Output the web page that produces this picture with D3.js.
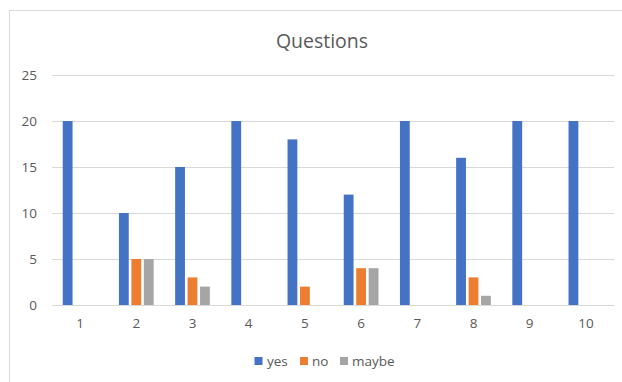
<!DOCTYPE html>
<html>
<head>
<meta charset="utf-8">
<script src="https://cdn.jsdelivr.net/npm/d3@7"></script>
<style>
  html, body { margin: 0; padding: 0; background: #fff; }
  svg { display: block; font-family: "Open Sans", "Noto Sans", sans-serif; }
</style>
</head>
<body>
<svg id="chart" width="622" height="382"></svg>
<script>
// Survey answers per question
const categories = ["1", "2", "3", "4", "5", "6", "7", "8", "9", "10"];
const seriesNames = ["yes", "no", "maybe"];
const yesValues = [20, 10, 15, 20, 18, 12, 20, 16, 20, 20];
const noValues = [0, 5, 3, 0, 2, 4, 0, 3, 0, 0];
const maybeValues = [0, 5, 2, 0, 0, 4, 0, 1, 0, 0];
const yTicks = [0, 5, 10, 15, 20, 25];
const colors = ["#4472C4", "#ED7D31", "#A5A5A5"];
const titleText = "Questions";

const seriesValues = [yesValues, noValues, maybeValues];

const svg = d3.select("#chart");
const W = 622, H = 382;
const plot = { left: 52, right: 614, top: 75, bottom: 305 };

// Chart frame
svg.append("rect")
  .attr("x", 9.5).attr("y", 10.5)
  .attr("width", W + 20).attr("height", H + 20)
  .attr("fill", "#fff").attr("stroke", "#d9d9d9").attr("stroke-width", 1);

// Title
svg.append("text")
  .attr("x", 322).attr("y", 47.5)
  .attr("text-anchor", "middle")
  .attr("font-size", 19.5)
  .attr("fill", "#595959")
  .text(titleText);

const x = d3.scaleBand()
  .domain(categories)
  .range([plot.left, plot.right])
  .paddingInner(0).paddingOuter(0);

const y = d3.scaleLinear()
  .domain([0, 25])
  .range([plot.bottom, plot.top]);

// Bars: gap width 219%, overlap -27%
const catW = x.bandwidth();
const barW = catW / (3 + 2 * 0.27 + 2.19);
const barStep = barW * 1.27;
const groupW = barW * 3 + barW * 0.27 * 2;

// Gridlines
const grid = svg.append("g");
grid.selectAll("line")
  .data(yTicks)
  .join("line")
  .attr("x1", plot.left).attr("x2", plot.right)
  .attr("y1", d => Math.round(y(d)) + 0.5)
  .attr("y2", d => Math.round(y(d)) + 0.5)
  .attr("stroke", "#d9d9d9").attr("stroke-width", 1);

// Y axis labels
const yAxis = d3.axisLeft(y).tickValues(yTicks).tickSize(0).tickPadding(0);
const yg = svg.append("g")
  .attr("transform", `translate(${plot.left - 15},0)`)
  .call(yAxis);
yg.select(".domain").remove();
yg.selectAll("text")
  .attr("font-size", 13.5)
  .attr("font-family", "'Open Sans', sans-serif")
  .attr("fill", "#595959");

// Bars
const groups = svg.append("g").selectAll("g")
  .data(seriesNames)
  .join("g")
  .attr("fill", (d, i) => colors[i]);

groups.each(function (name, si) {
  d3.select(this).selectAll("rect")
    .data(seriesValues[si].map((v, ci) => ({ v, c: categories[ci] })))
    .join("rect")
    .filter(d => d.v > 0)
    .attr("x", d => x(d.c) + (catW - groupW) / 2 + si * barStep)
    .attr("width", barW)
    .attr("y", d => y(d.v))
    .attr("height", d => y(0) - y(d.v));
});

// X axis labels
const xAxis = d3.axisBottom(x).tickSize(0).tickPadding(0);
const xg = svg.append("g")
  .attr("transform", `translate(0,${plot.bottom + 13})`)
  .call(xAxis);
xg.select(".domain").remove();
xg.selectAll("text")
  .attr("font-size", 13.5)
  .attr("font-family", "'Open Sans', sans-serif")
  .attr("fill", "#595959");

// Legend
const legendItems = [
  { name: seriesNames[0], sx: 254.5, tx: 267 },
  { name: seriesNames[1], sx: 300, tx: 312 },
  { name: seriesNames[2], sx: 340, tx: 352 }
];
const legend = svg.append("g");
legendItems.forEach((it, i) => {
  legend.append("rect")
    .attr("x", it.sx).attr("y", 357)
    .attr("width", 8).attr("height", 8)
    .attr("fill", colors[i]);
  legend.append("text")
    .attr("x", it.tx).attr("y", 365.5)
    .attr("font-size", 13.5)
    .attr("fill", "#595959")
    .text(it.name);
});
</script>
</body>
</html>
